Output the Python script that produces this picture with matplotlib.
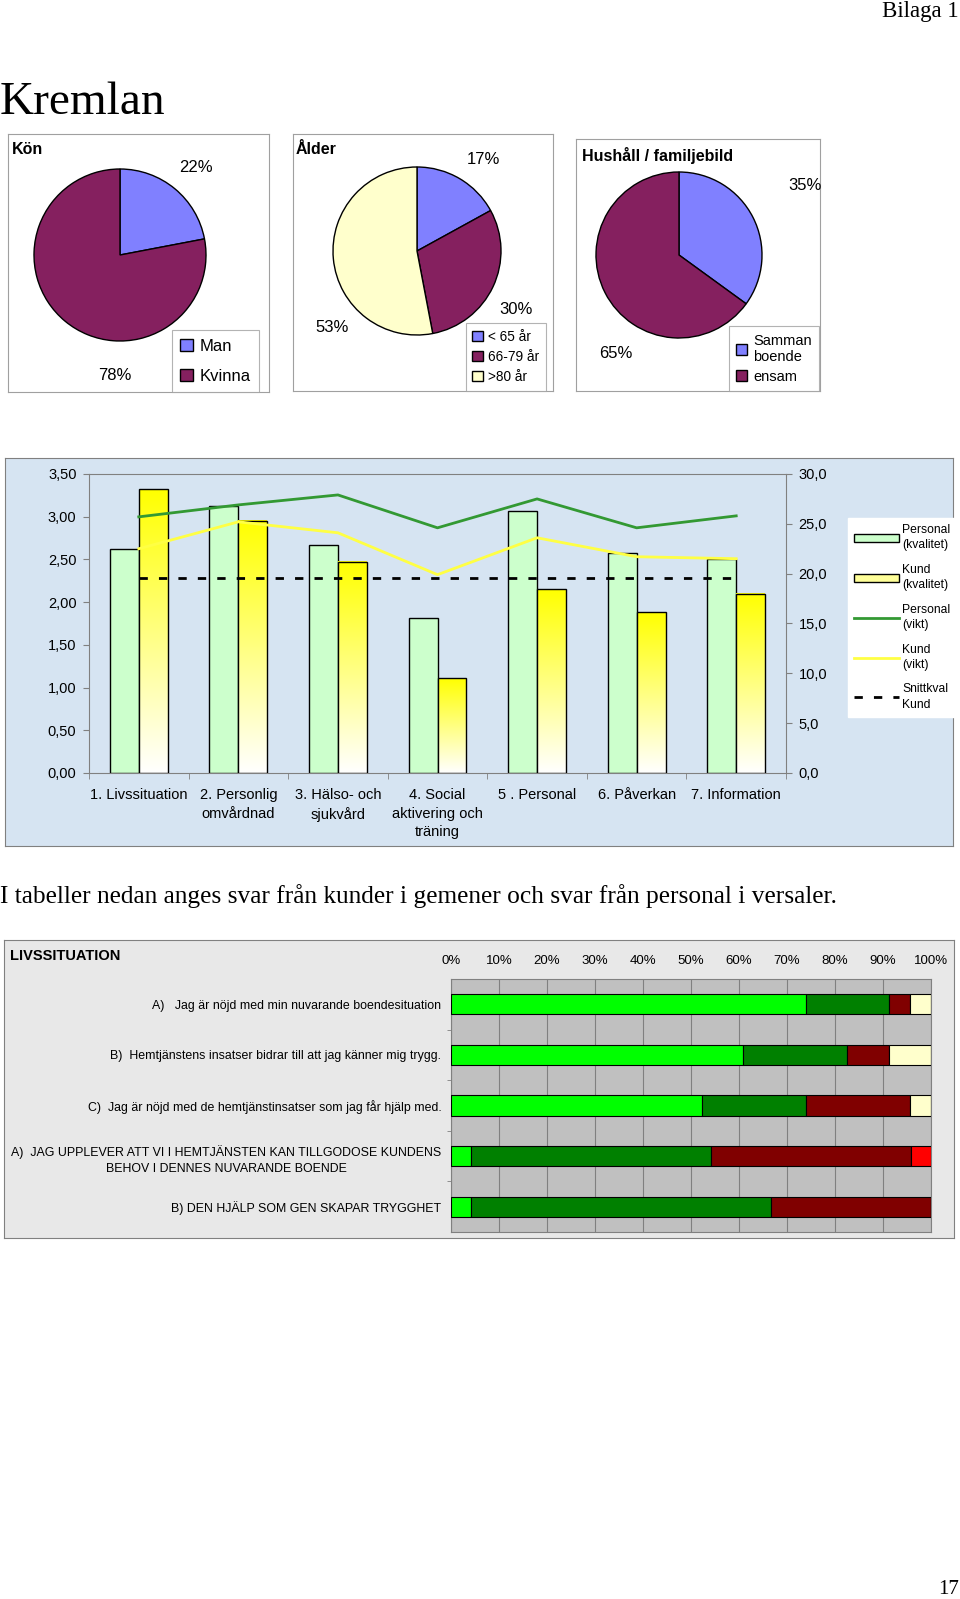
import numpy as np
import matplotlib
matplotlib.use("Agg")
import matplotlib.pyplot as plt
from matplotlib.patches import Patch
from matplotlib.lines import Line2D
from matplotlib.colors import LinearSegmentedColormap
from matplotlib.ticker import FuncFormatter, FixedLocator

plt.rcParams['font.family'] = ['Liberation Sans', 'DejaVu Sans']

# ---- data ----
kon_labels = ['Man', 'Kvinna']
kon_vals = [22, 78]
alder_labels = ['< 65 år', '66-79 år', '>80 år']
alder_vals = [17, 30, 53]
hushall_labels = ['Samman\nboende', 'ensam']
hushall_vals = [35, 65]

categories = ['1. Livssituation', '2. Personlig\nomvårdnad', '3. Hälso- och\nsjukvård',
              '4. Social\naktivering och\nträning', '5 . Personal', '6. Påverkan', '7. Information']
personal_kval = [2.62, 3.13, 2.67, 1.81, 3.07, 2.57, 2.51]
kund_kval = [3.32, 2.95, 2.47, 1.11, 2.15, 1.88, 2.10]
personal_vikt = [25.7, 26.9, 27.9, 24.6, 27.5, 24.6, 25.8]
kund_vikt = [22.5, 25.2, 24.1, 19.9, 23.6, 21.7, 21.5]
snittkval_kund = [2.28] * 7

questions = ['A)   Jag är nöjd med min nuvarande boendesituation',
             'B)  Hemtjänstens insatser bidrar till att jag känner mig trygg.',
             'C)  Jag är nöjd med de hemtjänstinsatser som jag får hjälp med.',
             'A)  JAG UPPLEVER ATT VI I HEMTJÄNSTEN KAN TILLGODOSE KUNDENS\nBEHOV I DENNES NUVARANDE BOENDE',
             'B) DEN HJÄLP SOM GEN SKAPAR TRYGGHET']
seg_lgreen = [73.9, 60.9, 52.2, 4.2, 4.2]
seg_dgreen = [17.4, 21.7, 21.7, 50.0, 62.5]
seg_dred = [4.3, 8.7, 21.7, 41.7, 33.3]
seg_cream = [4.3, 8.7, 4.3, 0, 0]
seg_red = [0, 0, 0, 4.2, 0]

W, H = 960, 1599
fig = plt.figure(figsize=(W / 100, H / 100), dpi=100)
fig.patch.set_facecolor('white')


def px_axes(x0, y0, x1, y1, **kw):
    return fig.add_axes([x0 / W, 1 - y1 / H, (x1 - x0) / W, (y1 - y0) / H], **kw)


def ftext(x, y, s, **kw):
    return fig.text(x / W, 1 - y / H, s, **kw)


def panel(x0, y0, x1, y1, fc='white', ec='#a0a0a0'):
    p = px_axes(x0, y0, x1, y1)
    p.set_facecolor(fc)
    p.set_xticks([])
    p.set_yticks([])
    for s in p.spines.values():
        s.set_color(ec)
    return p


# ---- page text ----
serif = ['Liberation Serif', 'DejaVu Serif']
ftext(959, 12, 'Bilaga 1', family=serif, fontsize=16.5, ha='right', va='center')
ftext(0, 103, 'Kremlan', family=serif, fontsize=34, ha='left', va='center')
ftext(0, 896, 'I tabeller nedan anges svar från kunder i gemener och svar från personal i versaler.',
      family=serif, fontsize=18.3, ha='left', va='center')
ftext(959, 1589, '17', family=serif, fontsize=15, ha='right', va='center')

# ---- pies ----
blue = '#8080ff'
plum = '#85205f'
cream = '#ffffcc'


def pie_panel(box_xy, center, r, vals, labels, colors, title, title_xy, pct_xy, leg_xy, leg_fs, leg_sp):
    panel(*box_xy)
    cx, cy = center
    ax = px_axes(cx - r * 1.03, cy - r * 1.03, cx + r * 1.03, cy + r * 1.03)
    wedges, _ = ax.pie(vals, colors=colors, startangle=90, counterclock=False,
                       wedgeprops=dict(edgecolor='black', linewidth=1.0))
    ax.set_xlim(-1.03, 1.03)
    ax.set_ylim(-1.03, 1.03)
    ftext(title_xy[0], title_xy[1], title, fontsize=11.5, fontweight='bold', ha='left', va='center')
    for v, (px, py) in zip(vals, pct_xy):
        ftext(px, py, f'{v}%', fontsize=12, ha='center', va='center')
    leg = ax.legend(wedges, labels, loc='lower right', bbox_to_anchor=(leg_xy[0] / W, 1 - leg_xy[1] / H),
                    bbox_transform=fig.transFigure, fontsize=leg_fs, frameon=True, fancybox=False,
                    edgecolor='#a0a0a0', handlelength=0.75, handleheight=0.75, handletextpad=0.4,
                    labelspacing=leg_sp, borderpad=0.5, borderaxespad=0)
    leg.get_frame().set_linewidth(0.8)


pie_panel((8, 134, 269, 392), (120, 255), 86, kon_vals, kon_labels, [blue, plum], 'Kön', (12, 150),
          [(196, 168), (115, 375)], (259, 392), 12, 0.9)
pie_panel((293, 134, 553, 391), (417, 251), 84, alder_vals, alder_labels, [blue, plum, cream], 'Ålder',
          (296, 150), [(483, 160), (516, 310), (332, 328)], (546, 391), 9.8, 0.45)
pie_panel((576, 139, 820, 391), (679, 255), 83, hushall_vals, hushall_labels, [blue, plum], 'Hushåll / familjebild',
          (582, 155), [(805, 186), (616, 353)], (819, 391), 10.5, 0.4)

# ---- combined bar / line chart ----
panel(5, 458, 953, 846, fc='#d6e4f2', ec='#808080')

ax = px_axes(89, 474, 786, 773)
ax.set_facecolor('none')
x = np.arange(len(categories))
bw = 0.29
bars_p = ax.bar(x - bw / 2, personal_kval, bw, color='#ccffcc', edgecolor='black', linewidth=1.0, zorder=2)
bars_k = ax.bar(x + bw / 2, kund_kval, bw, color='none', edgecolor='black', linewidth=1.0, zorder=3)
wy = LinearSegmentedColormap.from_list('wy', ['#ffffff', '#ffff80', '#ffff00'])
grad = np.linspace(0, 1, 256).reshape(-1, 1)
for b in bars_k:
    ax.imshow(grad, extent=[b.get_x(), b.get_x() + b.get_width(), 0, b.get_height()], origin='lower',
              aspect='auto', cmap=wy, interpolation='bilinear', zorder=2.5)
ax.plot(x, snittkval_kund, color='black', linestyle=(0, (3, 4)), linewidth=2, zorder=4)
ax.set_xlim(-0.5, len(categories) - 0.5)
ax.set_ylim(0, 3.5)
ax.set_yticks(np.arange(0, 3.51, 0.5))
ax.yaxis.set_major_formatter(FuncFormatter(lambda v, p: f'{v:.2f}'.replace('.', ',')))
ax.set_xticks(x)
ax.set_xticklabels(categories, fontsize=10.5)
for t in ax.get_xticklabels():
    t.set_linespacing(1.4)
ax.xaxis.set_minor_locator(FixedLocator(np.arange(-0.5, len(categories), 1.0)))
ax.tick_params(axis='x', which='major', length=0, pad=11)
ax.tick_params(axis='x', which='minor', length=4, color='#808080')
ax.tick_params(axis='y', length=4, color='#808080', labelsize=10.5, pad=5)
for s in ['left', 'bottom', 'top']:
    ax.spines[s].set_color('#808080')
ax.spines['right'].set_visible(False)

ax2 = ax.twinx()
ax2.plot(x, personal_vikt, color='#339933', linewidth=2, zorder=5)
ax2.plot(x, kund_vikt, color='#ffff44', linewidth=2, zorder=5)
ax2.set_ylim(0, 30)
ax2.set_yticks(np.arange(0, 30.1, 5))
ax2.yaxis.set_major_formatter(FuncFormatter(lambda v, p: f'{v:.1f}'.replace('.', ',')))
ax2.tick_params(axis='y', length=4, color='#808080', labelsize=10.5, pad=5)
for s in ['left', 'top', 'bottom']:
    ax2.spines[s].set_visible(False)
ax2.spines['right'].set_color('#808080')

handles = [Patch(facecolor='#ccffcc', edgecolor='black'),
           Patch(facecolor='#ffff99', edgecolor='black'),
           Line2D([], [], color='#339933', linewidth=2),
           Line2D([], [], color='#ffff44', linewidth=2),
           Line2D([], [], color='black', linestyle=(0, (3, 4)), linewidth=2)]
leg_labels = ['Personal\n(kvalitet)', 'Kund\n(kvalitet)', 'Personal\n(vikt)', 'Kund\n(vikt)', 'Snittkval\nKund']
leg = ax2.legend(handles, leg_labels, loc='upper left', bbox_to_anchor=(848 / W, 1 - 518 / H),
                 bbox_transform=fig.transFigure, fontsize=8.7, frameon=True, fancybox=False,
                 facecolor='white', edgecolor='white', framealpha=1, handlelength=3.7, handleheight=0.6,
                 handletextpad=0.3, labelspacing=1.05, borderpad=0.5, borderaxespad=0)
for t in leg.get_texts():
    t.set_linespacing(1.35)

# ---- stacked percentage bars ----
panel(4, 940, 954, 1238, fc='#e8e8e8', ec='#808080')
ftext(10, 956, 'LIVSSITUATION', fontsize=10.5, fontweight='bold', ha='left', va='center')

ax3 = px_axes(451, 979, 931, 1232)
ax3.set_facecolor('#c0c0c0')
y = np.arange(len(questions))
left = np.zeros(len(questions))
for vals, col in [(seg_lgreen, '#00ff00'), (seg_dgreen, '#008000'), (seg_dred, '#800000'),
                  (seg_cream, '#ffffcc'), (seg_red, '#ff0000')]:
    ax3.barh(y, vals, 0.4, left=left, color=col, edgecolor='black', linewidth=0.8, zorder=3)
    left += np.array(vals)
ax3.set_xlim(0, 100)
ax3.set_ylim(len(questions) - 0.5, -0.5)
ax3.set_xticks(np.arange(0, 101, 10))
ax3.xaxis.set_major_formatter(FuncFormatter(lambda v, p: f'{v:.0f}%'))
ax3.xaxis.tick_top()
ax3.tick_params(axis='x', length=0, labelsize=9.5, pad=9)
ax3.grid(axis='x', color='#808080', linewidth=0.8, zorder=1)
ax3.set_axisbelow(True)
ax3.set_yticks(y)
ax3.set_yticklabels(questions, fontsize=8.9)
for t in ax3.get_yticklabels():
    t.set_multialignment('center')
    t.set_linespacing(1.5)
ax3.yaxis.set_minor_locator(FixedLocator(np.arange(0.5, len(questions) - 0.5, 1.0)))
ax3.tick_params(axis='y', which='major', length=0, pad=7)
ax3.tick_params(axis='y', which='minor', length=3, color='#808080')
for s in ax3.spines.values():
    s.set_color('#808080')

fig.savefig('out.png', dpi=100)
